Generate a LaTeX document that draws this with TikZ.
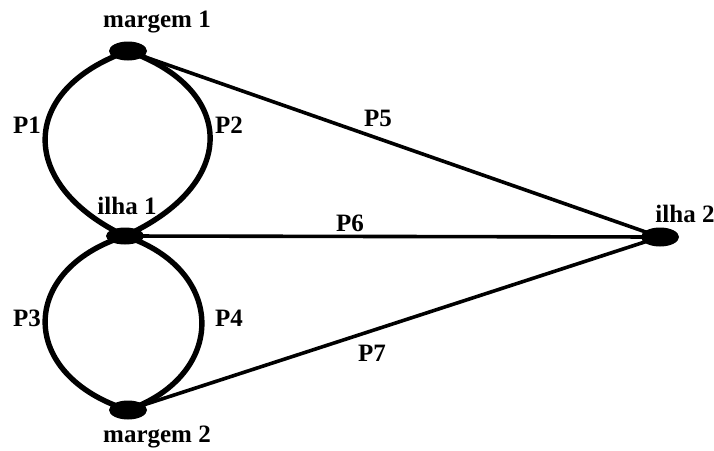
\documentclass[tikz,border=0pt]{standalone}
\usepackage{fontspec}
\setmainfont{Liberation Serif}
\usetikzlibrary{shapes.geometric}
\begin{document}
\begin{tikzpicture}[x=1pt,y=-1pt,
  vtx/.style={ellipse,fill=black,minimum width=38pt,minimum height=19pt,inner sep=0pt},
  arc/.style={line width=5.4pt},
  edge/.style={line width=3.6pt},
  lbl/.style={font=\fontsize{25}{25}\selectfont\bfseries,inner sep=0pt}]
\useasboundingbox (0,0) rectangle (714,450);
\node[vtx] (m1) at (128,51) {};
\node[vtx,minimum height=17pt] (i1) at (125,236) {};
\node[vtx] (m2) at (128,410) {};
\node[vtx] (i2) at (660,237) {};
\draw[arc] (m1.center) .. controls (18,90) and (18,185) .. (i1.center);
\draw[arc] (m1.center) .. controls (238,90) and (238,185) .. (i1.center);
\draw[arc] (i1.center) .. controls (18,270) and (18,375) .. (m2.center);
\draw[arc] (i1.center) .. controls (227,270) and (227,375) .. (m2.center);
\draw[edge] (m1.center) -- (i2.center);
\draw[edge] (i1.center) -- (i2.center);
\draw[edge] (m2.center) -- (i2.center);
\node[lbl] (lm1) at (157,22) {margem 1};
\node[lbl] (lm2) at (157,437) {margem 2};
\node[lbl] (li1) at (127,206) {ilha 1};
\node[lbl] (li2) at (685,214) {ilha 2};
\node[lbl] (p1) at (27,125) {P1};
\node[lbl] (p2) at (229,125) {P2};
\node[lbl] (p3) at (27,318) {P3};
\node[lbl] (p4) at (229,318) {P4};
\node[lbl] (p5) at (378,118) {P5};
\node[lbl] (p6) at (350,223) {P6};
\node[lbl] (p7) at (372,353) {P7};
\end{tikzpicture}
\end{document}
